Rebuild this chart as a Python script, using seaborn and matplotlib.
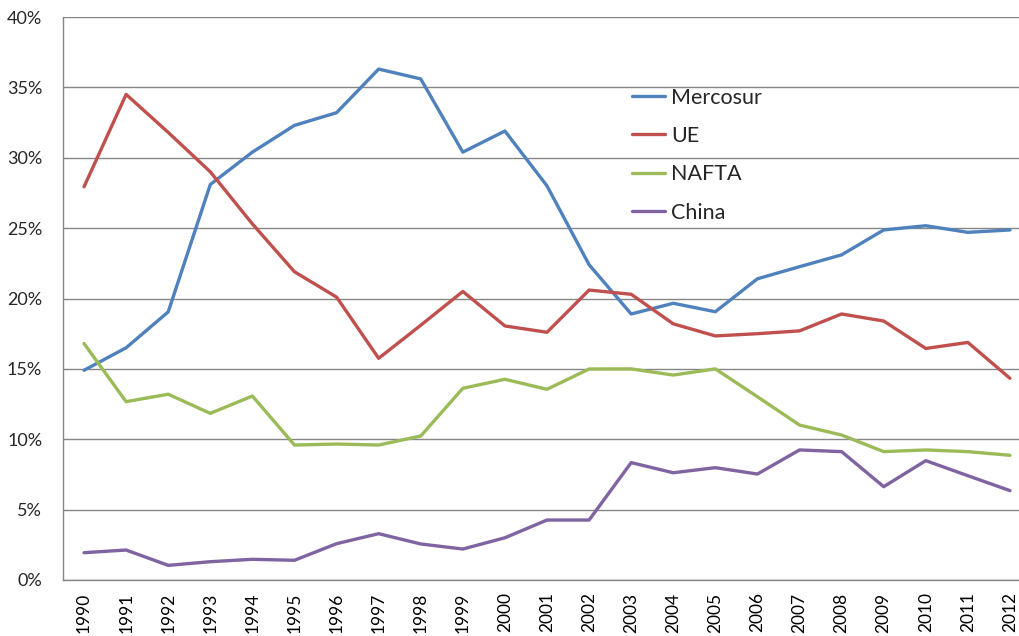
import matplotlib
matplotlib.use("Agg")
import matplotlib.pyplot as plt
import seaborn as sns
import pandas as pd
from matplotlib.ticker import FuncFormatter, FixedLocator

years = list(range(1990, 2013))
mercosur = [14.9, 16.5, 19.05, 28.1, 30.4, 32.3, 33.2, 36.3, 35.6, 30.4, 31.9, 28.0,
            22.4, 18.9, 19.66, 19.06, 21.4, 22.26, 23.1, 24.87, 25.17, 24.7, 24.87]
ue = [27.94, 34.5, 31.8, 29.0, 25.3, 21.9, 20.1, 15.75, 18.1, 20.5, 18.05, 17.6,
      20.6, 20.3, 18.2, 17.34, 17.5, 17.7, 18.9, 18.4, 16.45, 16.88, 14.33]
nafta = [16.8, 12.67, 13.2, 11.84, 13.07, 9.59, 9.66, 9.59, 10.23, 13.62, 14.26, 13.55,
         14.99, 15.0, 14.56, 15.0, 13.02, 11.01, 10.3, 9.12, 9.24, 9.12, 8.86]
china = [1.94, 2.13, 1.04, 1.3, 1.47, 1.4, 2.58, 3.29, 2.56, 2.2, 3.0, 4.26,
         4.26, 8.34, 7.62, 7.98, 7.53, 9.24, 9.12, 6.63, 8.48, 7.41, 6.35]
series_names = ["Mercosur", "UE", "NAFTA", "China"]
colors = ["#4F81BD", "#C0504D", "#9BBB59", "#8064A2"]

rows = []
for name, vals in zip(series_names, [mercosur, ue, nafta, china]):
    for i, (y, v) in enumerate(zip(years, vals)):
        rows.append({"idx": i, "year": y, "serie": name, "valor": v / 100})
df = pd.DataFrame(rows)

sns.set_style("white")
plt.rcParams["font.family"] = ["Lato", "DejaVu Sans"]

fig = plt.figure(figsize=(10.2, 6.36), dpi=100)
ax = fig.add_axes([63 / 1020, 56 / 636, 968 / 1020, 563 / 636])

sns.lineplot(data=df, x="idx", y="valor", hue="serie", hue_order=series_names,
             palette=colors, linewidth=2.4, ax=ax, legend=True)

ax.set_xlim(-0.5, 22.5)
ax.set_ylim(0, 0.40)
ax.set_yticks([i * 0.05 for i in range(9)])
ax.yaxis.set_major_formatter(FuncFormatter(lambda v, p: f"{v*100:.0f}%"))
ax.set_xticks(range(len(years)))
ax.set_xticklabels([str(y) for y in years], rotation=90)
ax.xaxis.set_minor_locator(FixedLocator([i - 0.5 for i in range(len(years) + 1)]))
ax.tick_params(axis="x", which="major", length=0, pad=9, labelsize=12.5, colors="black")
ax.tick_params(axis="x", which="minor", length=5, width=1, color="#868686", direction="out")
ax.tick_params(axis="y", which="major", length=5, width=1, color="#868686", direction="out",
               labelsize=13, pad=10)
ax.set_xlabel("")
ax.set_ylabel("")

ax.grid(axis="y", color="#868686", linewidth=1)
ax.grid(axis="x", visible=False)
ax.set_axisbelow(True)
for s in ["top", "right"]:
    ax.spines[s].set_visible(False)
for s in ["left", "bottom"]:
    ax.spines[s].set_color("#868686")
    ax.spines[s].set_linewidth(1)

leg = ax.legend(loc="upper left", bbox_to_anchor=(623 / 1020, 1 - 79 / 636),
                bbox_transform=fig.transFigure, frameon=False, fontsize=15.5,
                handlelength=1.55, handletextpad=0.3, labelspacing=0.85, borderaxespad=0)
for line in leg.get_lines():
    line.set_linewidth(2.4)

fig.savefig("out.png", dpi=100)
